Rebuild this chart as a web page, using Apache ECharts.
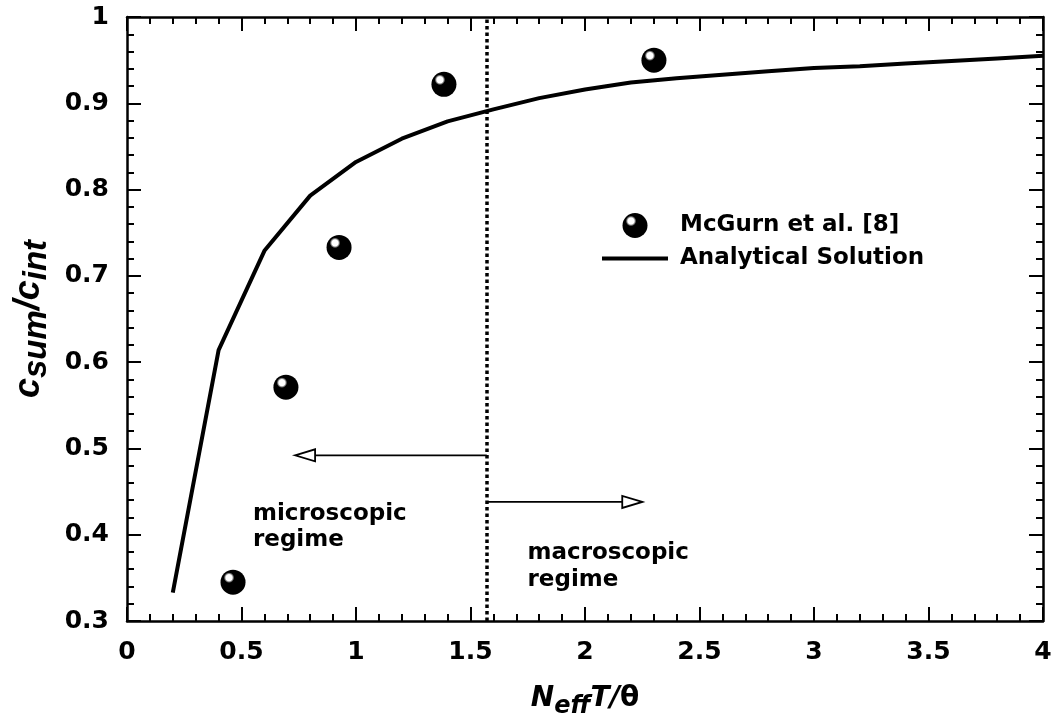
<!DOCTYPE html>
<html><head><meta charset="utf-8">
<script src="https://cdn.jsdelivr.net/npm/echarts@6/dist/echarts.min.js"></script>
<style>html,body{margin:0;padding:0;background:#fff}#c{width:1053px;height:720px}</style>
</head><body><div id="c"></div>
<script>
// ---- data ----
const mcgurnX = [0.463, 0.694, 0.926, 1.384, 2.301];
const mcgurnY = [0.345, 0.571, 0.733, 0.922, 0.950];
const analyticX = [0.2, 0.4, 0.6, 0.8, 1.0, 1.2, 1.4, 1.6, 1.8, 2.0, 2.2, 2.4, 2.6, 2.8, 3.0, 3.2, 3.4, 3.6, 3.8, 4.0];
const analyticY = [0.333, 0.614, 0.729, 0.793, 0.832, 0.859, 0.879, 0.893, 0.906, 0.916, 0.924, 0.929, 0.933, 0.937, 0.941, 0.943, 0.946, 0.949, 0.952, 0.955];
const regimeBoundary = 1.571;
const arrowFromX = [1.571, 1.571];
const arrowToX = [0.734, 2.25];
const arrowY = [0.492, 0.438];
const annotText = ['microscopic', 'regime', 'macroscopic', 'regime'];
const annotX = [0.55, 0.55, 1.749, 1.749];
const annotY = [0.424, 0.394, 0.379, 0.348];
const xTickLabels = ['0', '0.5', '1', '1.5', '2', '2.5', '3', '3.5', '4'];
const yTickLabels = ['0.3', '0.4', '0.5', '0.6', '0.7', '0.8', '0.9', '1'];
const seriesNames = ['McGurn et al. [8]', 'Analytical Solution'];

// ---- chart ----
const chart = echarts.init(document.getElementById('c'), null, {renderer: 'canvas'});
const black = '#000';
const tickFont = {fontFamily: 'DejaVu Sans', fontWeight: 'bold', fontSize: 25, color: black};
function xFmt(v) { const i = Math.round(v / 0.5); return xTickLabels[i] !== undefined ? xTickLabels[i] : ''; }
function yFmt(v) { const i = Math.round((v - 0.3) / 0.1); return yTickLabels[i] !== undefined ? yTickLabels[i] : ''; }

function axisCommon(extra) {
  return Object.assign({
    type: 'value',
    axisLine: {show: true, onZero: false, lineStyle: {color: black, width: 2.5}},
    axisTick: {show: true, inside: true, length: 14, lineStyle: {color: black, width: 2}},
    minorTick: {show: true, splitNumber: 5, length: 7, lineStyle: {color: black, width: 2}},
    splitLine: {show: false},
    minorSplitLine: {show: false}
  }, extra);
}

const ball = {
  type: 'radial', x: 0.34, y: 0.32, r: 0.62,
  colorStops: [
    {offset: 0, color: '#fff'},
    {offset: 0.2, color: '#fff'},
    {offset: 0.34, color: '#000'},
    {offset: 1, color: '#000'}
  ]
};

const option = {
  backgroundColor: '#fff',
  animation: false,
  grid: {left: 127, top: 17, width: 916, height: 604, containLabel: false, outerBoundsMode: 'none'},
  legend: {
    left: 602, top: 213, orient: 'vertical', padding: 0,
    itemWidth: 66, itemHeight: 25, itemGap: 9,
    selectedMode: false,
    data: [
      {name: seriesNames[0]},
      {name: seriesNames[1], icon: 'path://M0,0 L66,0 L66,4 L0,4 Z'}
    ],
    textStyle: {fontFamily: 'DejaVu Sans', fontWeight: 'bold', fontSize: 23, color: black, padding: [0, 0, 0, 7]}
  },
  xAxis: [
    axisCommon({
      min: 0, max: 4, interval: 0.5, position: 'bottom',
      axisLabel: Object.assign({margin: 19, formatter: xFmt}, tickFont),
      name: '{n|N}{s|eff}{n|T/}{t|θ}',
      nameLocation: 'middle', nameGap: 62,
      nameTextStyle: {
        rich: {
          n: {fontFamily: 'DejaVu Sans', fontWeight: 'bold', fontStyle: 'italic', fontSize: 28, lineHeight: 32, color: black},
          s: {fontFamily: 'DejaVu Sans', fontWeight: 'bold', fontStyle: 'italic', fontSize: 24, lineHeight: 24, padding: [16, 0, 0, 0], color: black},
          t: {fontFamily: 'DejaVu Sans', fontWeight: 'bold', fontSize: 28, lineHeight: 32, color: black}
        }
      }
    }),
    axisCommon({
      min: 0, max: 4, interval: 0.5, position: 'top',
      axisLabel: {show: false}
    })
  ],
  yAxis: [
    axisCommon({
      min: 0.3, max: 1, interval: 0.1, position: 'left',
      axisLabel: Object.assign({margin: 18, formatter: yFmt}, tickFont),
      name: '{c|c}{s|sum}{c|/c}{s|int}',
      nameLocation: 'middle', nameGap: 72,
      nameTextStyle: {
        rich: {
          c: {fontFamily: 'Liberation Sans', fontWeight: 'bold', fontStyle: 'italic', fontSize: 36, lineHeight: 38, color: black},
          s: {fontFamily: 'Liberation Sans', fontWeight: 'bold', fontStyle: 'italic', fontSize: 33, lineHeight: 34, padding: [16, 0, 0, 0], color: black}
        }
      }
    }),
    axisCommon({
      min: 0.3, max: 1, interval: 0.1, position: 'right',
      axisLabel: {show: false}
    })
  ],
  series: [
    {
      name: seriesNames[0], type: 'scatter', xAxisIndex: 0, yAxisIndex: 0,
      symbol: 'circle', symbolSize: 25,
      itemStyle: {color: ball, opacity: 1},
      data: mcgurnX.map((x, i) => [x, mcgurnY[i]]),
      z: 5
    },
    {
      name: seriesNames[1], type: 'line', xAxisIndex: 0, yAxisIndex: 0,
      symbol: 'none', showSymbol: false,
      lineStyle: {color: black, width: 4},
      itemStyle: {color: black},
      data: analyticX.map((x, i) => [x, analyticY[i]]),
      markLine: {
        silent: true, symbol: 'none', label: {show: false},
        lineStyle: {color: black, width: 3.5, type: [3.5, 3]},
        data: [{xAxis: regimeBoundary}]
      },
      z: 4
    },
    {
      type: 'custom', xAxisIndex: 0, yAxisIndex: 0, silent: true,
      data: arrowFromX.map((x, i) => [x, arrowY[i], arrowToX[i]]),
      encode: {x: [0, 2], y: 1},
      renderItem: function (params, api) {
        const p0 = api.coord([api.value(0), api.value(1)]);
        const p1 = api.coord([api.value(2), api.value(1)]);
        const dir = Math.sign(p1[0] - p0[0]);
        const L = 20, H = 6;
        const base = p1[0] - dir * L;
        return {
          type: 'group', children: [
            {type: 'line', shape: {x1: p0[0], y1: p0[1], x2: base, y2: p1[1]}, style: {stroke: black, lineWidth: 1.8}},
            {type: 'polygon', shape: {points: [[p1[0], p1[1]], [base, p1[1] - H], [base, p1[1] + H]]}, style: {fill: '#fff', stroke: black, lineWidth: 1.8}}
          ]
        };
      },
      z: 3
    },
    {
      type: 'custom', xAxisIndex: 0, yAxisIndex: 0, silent: true,
      data: annotX.map((x, i) => [x, annotY[i], i]),
      encode: {x: 0, y: 1},
      renderItem: function (params, api) {
        const p = api.coord([api.value(0), api.value(1)]);
        return {
          type: 'text', x: p[0], y: p[1],
          style: {text: annotText[api.value(2)], fill: black, font: 'bold 23px "DejaVu Sans"', align: 'left', verticalAlign: 'middle'}
        };
      },
      z: 3
    }
  ]
};
chart.setOption(option);
</script>
</body></html>
